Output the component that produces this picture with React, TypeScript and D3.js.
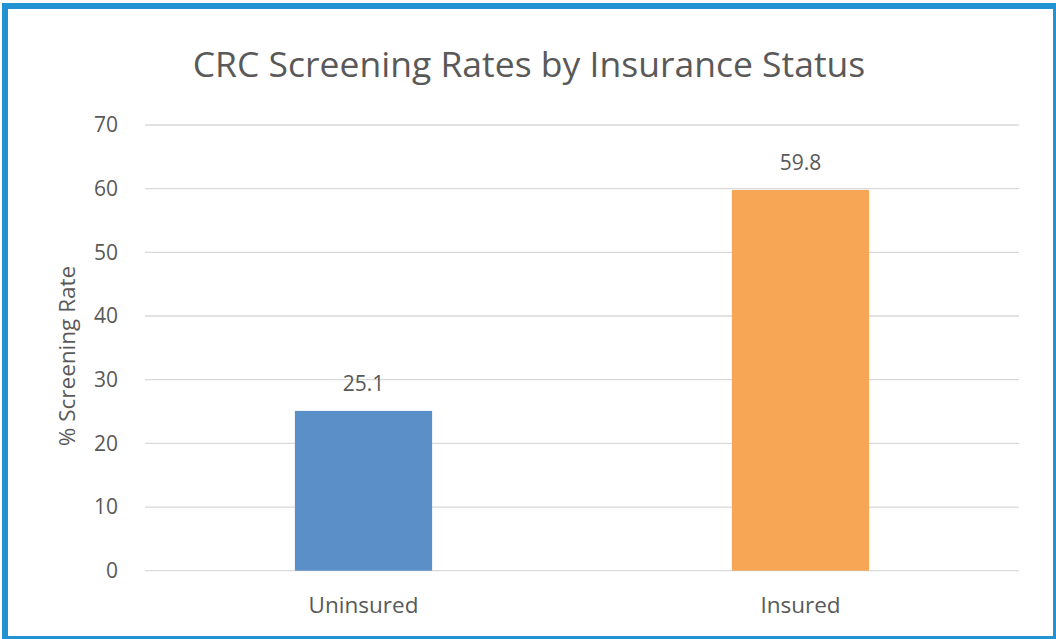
import React from "react";
import * as d3 from "d3";

const categories = ["Uninsured", "Insured"];
const values = [25.1, 59.8];
const barColors = ["#5B8FC7", "#F7A656"];
const yTicks = [0, 10, 20, 30, 40, 50, 60, 70];

const W = 1056;
const H = 639;
const FONT = "'Open Sans', sans-serif";
const TEXT = "#595959";

const App: React.FC = () => {
  const margin = { top: 125, right: 37, bottom: 68, left: 145 };
  const x = d3
    .scaleBand<string>()
    .domain(categories)
    .range([margin.left, W - margin.right])
    .paddingInner(0.686)
    .paddingOuter(0.343);
  const y = d3
    .scaleLinear()
    .domain([0, 70])
    .range([H - margin.bottom - 0.3, margin.top]);

  return (
    <svg
      width={W}
      height={H}
      style={{ position: "fixed", left: 0, top: 0, background: "#fff" }}
    >
      <rect x={0} y={0} width={W} height={H} fill="#fff" />
      {/* frame */}
      <rect x={2} y={3} width={6} height={H - 3} fill="#2392D3" />
      <rect x={2} y={3} width={W - 2} height={6} fill="#2392D3" />
      <rect x={W - 3} y={3} width={3} height={H - 3} fill="#2392D3" />
      <rect x={2} y={H - 3} width={W - 2} height={3} fill="#2392D3" />

      <text
        x={529}
        y={77}
        textAnchor="middle"
        fontFamily={FONT}
        fontSize={35.5}
        fill={TEXT}
      >
        CRC Screening Rates by Insurance Status
      </text>

      {yTicks.map((t) => (
        <g key={t}>
          <line
            x1={margin.left}
            x2={W - margin.right}
            y1={y(t)}
            y2={y(t)}
            stroke="#D9D9D9"
            strokeWidth={1.3}
          />
          <text
            x={118}
            y={y(t)}
            dy="0.35em"
            textAnchor="end"
            fontFamily={FONT}
            fontSize={21}
            fill={TEXT}
          >
            {t}
          </text>
        </g>
      ))}

      <text
        transform={`translate(75,356) rotate(-90)`}
        textAnchor="middle"
        fontFamily={FONT}
        fontSize={22.5}
        fill={TEXT}
      >
        % Screening Rate
      </text>

      {categories.map((c, i) => (
        <g key={c}>
          <rect
            x={x(c)}
            y={y(values[i])}
            width={x.bandwidth()}
            height={y(0) - y(values[i])}
            fill={barColors[i]}
          />
          <text
            x={(x(c) ?? 0) + x.bandwidth() / 2}
            y={y(values[i]) - 20}
            textAnchor="middle"
            fontFamily={FONT}
            fontSize={21}
            fill={TEXT}
          >
            {values[i].toFixed(1)}
          </text>
          <text
            x={(x(c) ?? 0) + x.bandwidth() / 2}
            y={613}
            textAnchor="middle"
            fontFamily={FONT}
            fontSize={22.5}
            fill={TEXT}
          >
            {c}
          </text>
        </g>
      ))}
    </svg>
  );
};

export default App;
